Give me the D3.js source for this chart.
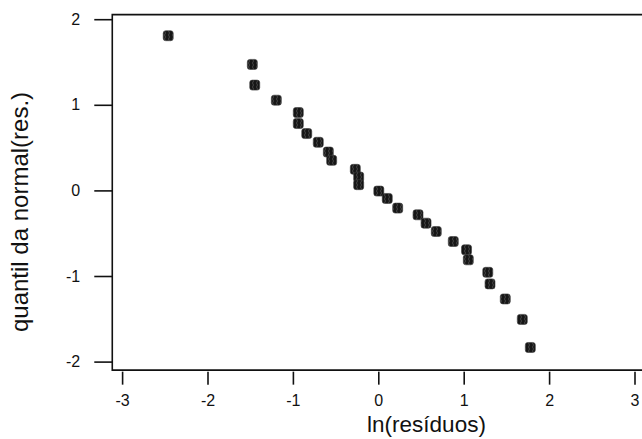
<!DOCTYPE html>
<html>
<head>
<meta charset="utf-8">
<script src="https://cdnjs.cloudflare.com/ajax/libs/d3/7.8.5/d3.min.js"></script>
<style>
  html, body { margin: 0; padding: 0; background: #fff; }
  text { font-family: "Liberation Sans", Arial, sans-serif; fill: #111; }
</style>
</head>
<body>
<div id="chart"></div>
<script>
// residual values (x) and normal quantiles (y)
var lnResiduos = [-2.46, -1.475, -1.447, -1.194, -0.937, -0.937, -0.838, -0.703, -0.585, -0.546,
    -0.269, -0.23, -0.23, 0.006, 0.105, 0.227, 0.465, 0.559, 0.679, 0.878,
    1.033, 1.054, 1.282, 1.308, 1.487, 1.686, 1.78];
var quantil = [1.807, 1.472, 1.23, 1.054, 0.91, 0.781, 0.664, 0.562, 0.448, 0.351,
    0.246, 0.156, 0.067, -0.008, -0.094, -0.207, -0.285, -0.383, -0.48, -0.597,
    -0.694, -0.811, -0.957, -1.092, -1.268, -1.507, -1.835];
var xTicks = [-3, -2, -1, 0, 1, 2, 3];
var yTicks = [-2, -1, 0, 1, 2];

var points = lnResiduos.map(function(v, i) { return {x: v, y: quantil[i]}; });

var width = 642, height = 439;

var svg = d3.select("#chart").append("svg")
    .attr("width", width)
    .attr("height", height);

svg.append("rect").attr("width", width).attr("height", height).attr("fill", "#fff");

// scales
var x = d3.scaleLinear().domain([-3, 3]).range([122.1, 634.5]);
var y = d3.scaleLinear().domain([-2, 2]).range([361.6, 19.2]);

// plot frame (usr region), open on the right where the picture is cut
var usr = {x0: -3.115, x1: 3.2, y0: -2.1, y1: 2.053};

// plain hyphen for negatives, like the original
var fmt = function(d) { return String(d); };

// marker texture
var defs = svg.append("defs");
var pat = defs.append("pattern")
    .attr("id", "hatch")
    .attr("patternUnits", "userSpaceOnUse")
    .attr("width", 4).attr("height", 4);
pat.append("rect").attr("width", 4).attr("height", 4).attr("fill", "#161616");
pat.append("path")
    .attr("d", "M1,0 Q2,1 1,2 Q0,3 1,4")
    .attr("fill", "none")
    .attr("stroke", "#5a5a5a")
    .attr("stroke-width", 0.7);

// points
svg.append("g").selectAll("rect")
    .data(points)
    .enter()
    .append("rect")
    .attr("x", function(d) { return x(d.x) - 5; })
    .attr("y", function(d) { return y(d.y) - 5; })
    .attr("width", 10)
    .attr("height", 10)
    .attr("rx", 2.5)
    .attr("fill", "url(#hatch)")
    .attr("stroke", "#3a3a3a")
    .attr("stroke-width", 0.6);

// frame
svg.append("path")
    .attr("d", "M" + x(usr.x1) + "," + y(usr.y1) + "H" + x(usr.x0) + "V" + y(usr.y0) + "H" + x(usr.x1))
    .attr("fill", "none")
    .attr("stroke", "#111")
    .attr("stroke-width", 1.6);

// x axis
var xAxis = d3.axisBottom(x)
    .tickValues(xTicks)
    .tickSize(13)
    .tickPadding(10)
    .tickFormat(fmt);

var gx = svg.append("g")
    .attr("transform", "translate(0," + (y(usr.y0) + 1.5) + ")")
    .call(xAxis);
gx.select(".domain").remove();
gx.selectAll("line").attr("stroke", "#111").attr("stroke-width", 1.6);
gx.selectAll("text")
    .attr("font-size", 16)
    .attr("font-family", "Liberation Sans, Arial, sans-serif")
    .attr("fill", "#111");

// y axis
var yAxis = d3.axisLeft(y)
    .tickValues(yTicks)
    .tickSize(18)
    .tickPadding(14)
    .tickFormat(fmt);

var gy = svg.append("g")
    .attr("transform", "translate(" + x(usr.x0) + ",0)")
    .call(yAxis);
gy.select(".domain").remove();
gy.selectAll("line").attr("stroke", "#111").attr("stroke-width", 1.6);
gy.selectAll("text")
    .attr("font-size", 16)
    .attr("font-family", "Liberation Sans, Arial, sans-serif")
    .attr("fill", "#111");

// axis titles
svg.append("text")
    .attr("x", 426.5)
    .attr("y", 432)
    .attr("text-anchor", "middle")
    .attr("font-size", 22.5)
    .text("ln(resíduos)");

svg.append("text")
    .attr("transform", "translate(28,212) rotate(-90)")
    .attr("text-anchor", "middle")
    .attr("font-size", 24)
    .text("quantil da normal(res.)");
</script>
</body>
</html>
